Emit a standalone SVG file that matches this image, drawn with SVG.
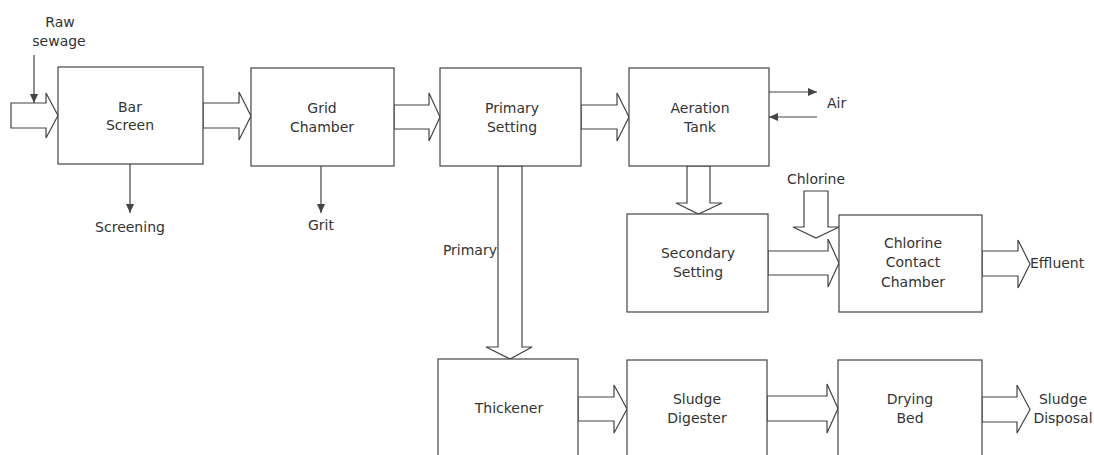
<svg xmlns="http://www.w3.org/2000/svg" width="1094" height="455" viewBox="0 0 1094 455">
<style>
.box{fill:#fff;stroke:#444;stroke-width:1.2}
.blk{fill:#fff;stroke:#444;stroke-width:1.2;stroke-linejoin:miter}
.ln{stroke:#444;stroke-width:1.2;fill:none}
text{font-family:"DejaVu Sans","Verdana",sans-serif;font-size:14px;fill:#333}
.c{text-anchor:middle}
</style>
<defs>
<marker id="ah" markerWidth="10" markerHeight="8" refX="9" refY="4" orient="auto" markerUnits="userSpaceOnUse">
<path d="M0,0 L9,4 L0,8 Z" fill="#444"/>
</marker>
</defs>
<rect width="1094" height="455" fill="#fff"/>
<g id="connectors">
<polygon class="blk" points="11,103 46,103 46,93 58,115.5 46,138 46,128 11,128"/>
<polygon class="blk" points="203,103 239,103 239,92 251,116 239,140 239,128 203,128"/>
<polygon class="blk" points="394,105 429,105 429,93 440,117 429,141 429,129 394,129"/>
<polygon class="blk" points="581,105 617,105 617,93 629,117 617,141 617,129 581,129"/>
<polygon class="blk" points="498,166 498,347 486,347 510,359 532,347 522,347 522,166"/>
<polygon class="blk" points="687,166 687,203 676,203 698.5,214 722,203 710,203 710,166"/>
<polygon class="blk" points="804,191 804,227 793,227 816,238 839,227 828,227 828,191"/>
<polygon class="blk" points="768,251 828,251 828,239 839,263 828,287 828,275 768,275"/>
<polygon class="blk" points="982,251 1018,251 1018,240 1030,264 1018,288 1018,276 982,276"/>
<polygon class="blk" points="578,397 614,397 614,385 627,409 614,433 614,421 578,421"/>
<polygon class="blk" points="767,396 827,396 827,384 838,408.5 827,433 827,421 767,421"/>
<polygon class="blk" points="982,397 1017,397 1017,385 1030,409.5 1017,433 1017,422 982,422"/>
<line class="ln" x1="34" y1="55" x2="34" y2="103" marker-end="url(#ah)"/>
<line class="ln" x1="130" y1="164" x2="130" y2="213" marker-end="url(#ah)"/>
<line class="ln" x1="321" y1="166" x2="321" y2="213" marker-end="url(#ah)"/>
<line class="ln" x1="769" y1="92" x2="817" y2="92" marker-end="url(#ah)"/>
<line class="ln" x1="817" y1="117" x2="769" y2="117" marker-end="url(#ah)"/>
</g>
<g id="labels">
<text class="c" x="60" y="27">Raw</text>
<text class="c" x="59" y="46">sewage</text>
<text class="c" x="130" y="232">Screening</text>
<text class="c" x="321" y="230">Grit</text>
<text x="827" y="108">Air</text>
<text x="497" y="255" text-anchor="end">Primary</text>
<text class="c" x="816" y="184">Chlorine</text>
<text x="1030" y="268">Effluent</text>
<text class="c" x="1063" y="404">Sludge</text>
<text class="c" x="1063" y="423">Disposal</text>
</g>
<g id="bar-screen">
<rect class="box" x="58" y="67" width="145" height="97"/>
<text class="c" x="130" y="112">Bar</text>
<text class="c" x="130" y="130">Screen</text>
</g>
<g id="grid-chamber">
<rect class="box" x="251" y="68" width="143" height="98"/>
<text class="c" x="322" y="113">Grid</text>
<text class="c" x="322" y="132">Chamber</text>
</g>
<g id="primary-setting">
<rect class="box" x="440" y="68" width="141" height="98"/>
<text class="c" x="512" y="113">Primary</text>
<text class="c" x="512" y="132">Setting</text>
</g>
<g id="aeration-tank">
<rect class="box" x="629" y="68" width="140" height="98"/>
<text class="c" x="700" y="113">Aeration</text>
<text class="c" x="700" y="132">Tank</text>
</g>
<g id="secondary-setting">
<rect class="box" x="627" y="214" width="141" height="98"/>
<text class="c" x="698" y="258">Secondary</text>
<text class="c" x="698" y="277">Setting</text>
</g>
<g id="chlorine-contact-chamber">
<rect class="box" x="839" y="215" width="143" height="97"/>
<text class="c" x="913" y="248">Chlorine</text>
<text class="c" x="913" y="267">Contact</text>
<text class="c" x="913" y="287">Chamber</text>
</g>
<g id="thickener">
<rect class="box" x="438" y="359" width="140" height="110"/>
<text class="c" x="509" y="413">Thickener</text>
</g>
<g id="sludge-digester">
<rect class="box" x="627" y="360" width="140" height="110"/>
<text class="c" x="697" y="404">Sludge</text>
<text class="c" x="697" y="423">Digester</text>
</g>
<g id="drying-bed">
<rect class="box" x="838" y="360" width="144" height="110"/>
<text class="c" x="910" y="404">Drying</text>
<text class="c" x="910" y="423">Bed</text>
</g>
</svg>
